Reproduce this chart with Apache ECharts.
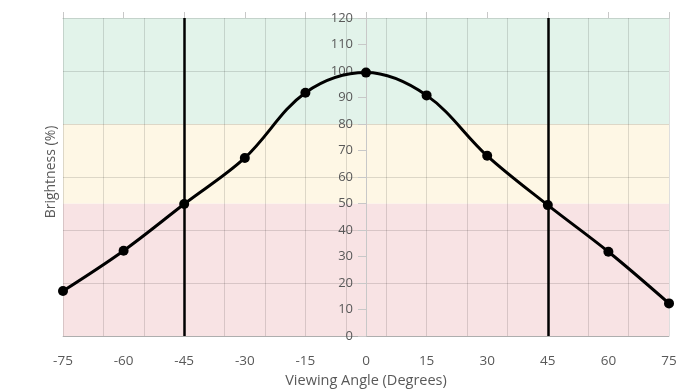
<!DOCTYPE html>
<html>
<head>
<meta charset="utf-8">
<script src="https://cdn.jsdelivr.net/npm/echarts@6/dist/echarts.min.js"></script>
<style>html,body{margin:0;padding:0;background:#fff}#c{width:695px;height:390px}</style>
</head>
<body>
<div id="c"></div>
<script>
const angles = [-75, -60, -45, -30, -15, 0, 15, 30, 45, 60, 75];
const brightness = [17.0, 32.2, 49.8, 67.2, 91.8, 99.4, 90.8, 68.0, 49.4, 31.8, 12.3];
const refLines = [-45, 45];
const bands = [
  { from: 0, to: 50, color: '#f8e3e4' },
  { from: 50, to: 80, color: '#fef7e5' },
  { from: 80, to: 120, color: '#e2f3ea' }
];
const xTitle = 'Viewing Angle (Degrees)';
const yTitle = 'Brightness (%)';

const font = 'Open Sans';
const textColor = '#595959';
const gridLeft = 63, gridRight = 26, chartW = 695;
const plotW = chartW - gridLeft - gridRight;
// y axis sits at x = 0 of the angle scale
const yAxisOffset = -plotW * (0 - angles[0]) / (angles[angles.length - 1] - angles[0]);

const chart = echarts.init(document.getElementById('c'));
chart.setOption({
  animation: false,
  grid: { left: gridLeft, right: gridRight, top: 18, bottom: 54, containLabel: false, outerBoundsMode: 'none' },
  xAxis: [
    {
      type: 'value', min: -75, max: 75, interval: 15, position: 'bottom',
      name: xTitle, nameLocation: 'middle', nameGap: 35,
      nameTextStyle: { color: textColor, fontFamily: font, fontSize: 14.5 },
      axisLine: { onZero: false, lineStyle: { color: '#c8c8c8', width: 1 } },
      axisTick: { show: false },
      axisLabel: { color: textColor, fontFamily: font, fontSize: 13.5, margin: 18 },
      splitLine: { show: false }
    },
    {
      type: 'value', min: 0, max: 150, interval: 10, position: 'bottom', z: 2,
      axisLine: { show: false, onZero: false }, axisTick: { show: false }, axisLabel: { show: false },
      splitLine: { show: true, lineStyle: { color: 'rgba(0,0,0,0.13)', width: 1 } }
    },
    {
      type: 'value', min: -75, max: 75, interval: 15, position: 'top',
      axisLine: { onZero: false, lineStyle: { color: '#c8c8c8', width: 1 } },
      axisTick: { show: true, length: 6, lineStyle: { color: '#c8c8c8' } },
      axisLabel: { show: false },
      splitLine: { show: false }
    }
  ],
  yAxis: [
    {
      type: 'value', min: 0, max: 120, interval: 10, z: 2, position: 'left', offset: yAxisOffset,
      name: yTitle, nameLocation: 'middle', nameGap: 308, nameRotate: 90,
      nameTextStyle: { color: textColor, fontFamily: font, fontSize: 14, padding: [0, 0, 0, 10] },
      axisLine: { show: true, onZero: false, lineStyle: { color: '#c8c8c8', width: 1 } },
      axisTick: { show: true, length: 8, lineStyle: { color: '#c8c8c8' } },
      axisLabel: { color: textColor, fontFamily: font, fontSize: 13, margin: 13 },
      splitLine: { show: false }
    },
    {
      type: 'value', min: 0, max: 120, interval: 20, z: 2,
      axisLine: { show: false, onZero: false }, axisTick: { show: false }, axisLabel: { show: false },
      splitLine: { show: true, lineStyle: { color: 'rgba(0,0,0,0.13)', width: 1 } }
    }
  ],
  series: [
    {
      type: 'line', xAxisIndex: 0, yAxisIndex: 0, z: -1, data: [], silent: true, showSymbol: false,
      markArea: {
        silent: true,
        label: { show: false },
        data: bands.map(b => [
          { yAxis: b.from, itemStyle: { color: b.color } },
          { yAxis: b.to }
        ])
      }
    },
    {
      type: 'line', xAxisIndex: 0, yAxisIndex: 0, z: 5,
      data: angles.map((a, i) => [a, brightness[i]]),
      smooth: 0.35,
      symbol: 'circle', symbolSize: 10,
      itemStyle: { color: '#000' },
      lineStyle: { color: '#000', width: 3 },
      markLine: {
        silent: true, symbol: 'none', label: { show: false },
        lineStyle: { color: '#000', width: 2.5, type: 'solid' },
        data: refLines.map(v => ({ xAxis: v }))
      }
    }
  ]
});
</script>
</body>
</html>
